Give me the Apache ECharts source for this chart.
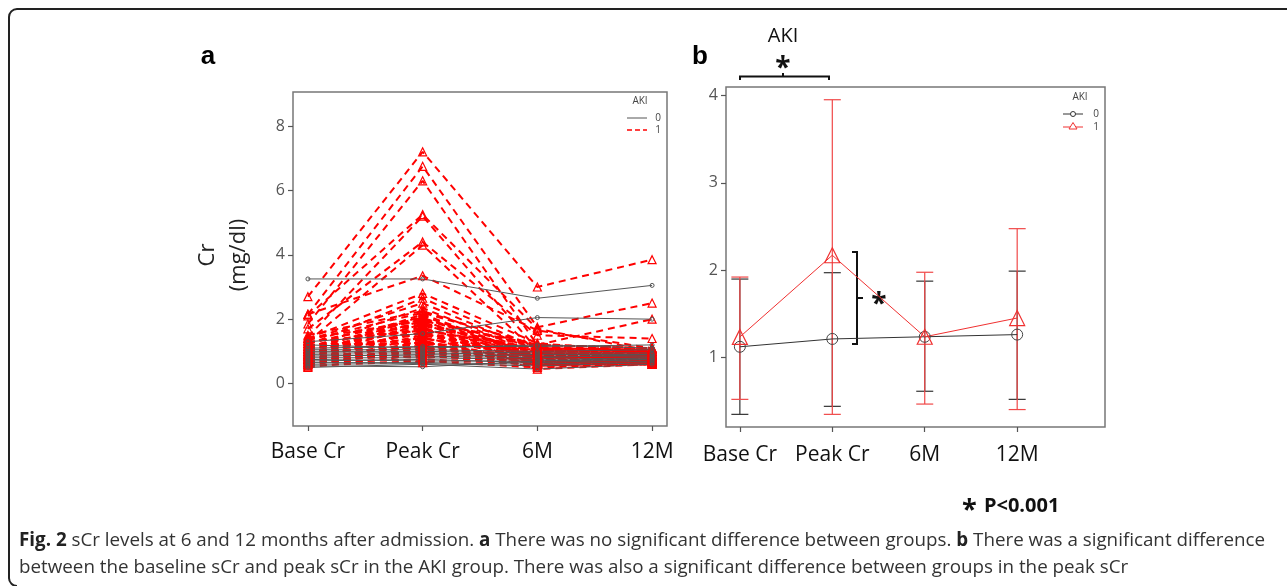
<!DOCTYPE html>
<html>
<head>
<meta charset="utf-8">
<script src="https://cdn.jsdelivr.net/npm/echarts@6/dist/echarts.min.js"></script>
<style>
  html, body { margin: 0; padding: 0; background: #fff; }
  #fig { width: 1287px; height: 586px; }
</style>
</head>
<body>
<div id="fig"></div>
<script>
// x positions 0..3
const timeLabels = ["Base Cr", "Peak Cr", "6M", "12M"];

// panel a: individual patients, AKI = 1 (red dashed)
const akiBase = [2.70, 2.15, 1.85, 2.10, 1.45, 1.70, 1.30, 2.15, 1.40, 1.20, 1.35, 1.10, 1.50, 1.00, 1.25, 0.90, 1.15, 0.80, 1.05, 0.95, 0.70, 1.30, 0.85, 1.00, 0.75, 0.60, 1.10, 0.90, 0.65, 1.20, 0.55, 0.80, 1.00, 0.70, 0.60, 0.85, 0.50, 0.75, 0.95, 0.65, 0.55, 1.40, 1.10, 0.90, 1.05,
                 0.60, 0.75, 0.85, 0.95, 1.05, 1.15, 1.25, 1.35, 0.65, 0.80, 0.70, 0.90];
const akiPeak = [7.20, 6.75, 6.30, 5.25, 5.20, 4.40, 4.30, 3.35, 2.80, 2.65, 2.50, 2.35, 2.25, 2.15, 2.05, 1.95, 1.90, 1.85, 1.80, 1.75, 1.70, 1.65, 1.60, 1.55, 1.50, 1.45, 1.40, 1.35, 1.30, 1.25, 1.20, 1.15, 1.10, 1.05, 1.00, 0.95, 0.90, 0.85, 0.80, 0.75, 0.70, 1.95, 2.00, 2.10, 0.65,
                 1.10, 1.25, 1.40, 1.55, 1.70, 1.85, 2.00, 2.20, 0.95, 1.00, 1.30, 1.60];
const aki6M   = [3.00, 1.75, 1.20, 1.70, 1.05, 1.50, 0.95, 1.65, 1.25, 1.10, 1.00, 0.90, 1.15, 0.85, 0.80, 0.75, 0.95, 0.70, 1.00, 0.60, 0.85, 1.10, 0.65, 0.90, 0.80, 0.55, 0.95, 0.45, 0.70, 1.05, 0.60, 0.85, 0.75, 0.90, 0.65, 0.80, 0.55, 0.70, 1.00, 0.60, 0.50, 1.20, 1.15, 0.85, 0.90,
                 0.70, 0.75, 0.80, 0.85, 0.95, 1.05, 1.10, 1.20, 0.60, 0.75, 0.65, 0.90];
const aki12M  = [3.85, 2.50, 2.00, 1.00, 0.90, 1.40, 0.85, 1.10, 1.00, 0.95, 0.90, 0.80, 1.05, 0.75, 0.85, 0.70, 0.90, 0.65, 1.00, 0.60, 0.80, 1.05, 0.70, 0.85, 0.75, 0.65, 0.90, 0.60, 0.70, 1.00, 0.65, 0.80, 0.75, 0.85, 0.70, 0.80, 0.60, 0.75, 0.95, 0.65, 0.60, 1.10, 0.95, 0.90, 0.85,
                 0.70, 0.80, 0.85, 0.90, 0.95, 1.00, 1.05, 1.10, 0.65, 0.70, 0.70, 0.85];

// panel a: AKI = 0 (grey solid)
const nonBase = [3.25, 1.30, 0.55, 1.20, 1.05, 0.95, 0.85, 0.80, 0.70, 0.65, 0.60, 1.00, 0.90, 0.75, 1.10, 0.50];
const nonPeak = [3.25, 1.55, 0.52, 1.10, 1.05, 0.95, 0.90, 0.80, 0.75, 0.65, 0.62, 1.00, 0.85, 0.70, 1.15, 0.60];
const non6M   = [2.65, 2.05, 0.70, 1.20, 1.00, 0.90, 0.85, 0.75, 0.65, 0.60, 0.55, 0.95, 0.80, 0.70, 1.15, 0.45];
const non12M  = [3.05, 2.00, 0.75, 1.10, 1.05, 0.90, 0.85, 0.80, 0.75, 0.70, 0.65, 0.95, 0.90, 0.80, 1.20, 0.60];

// panel b: mean and error bars
const meanNon = [1.12, 1.21, 1.235, 1.26];
const lowNon  = [0.345, 0.437, 0.61, 0.517];
const highNon = [1.897, 1.97, 1.873, 1.988];
const meanAki = [1.233, 2.17, 1.235, 1.45];
const lowAki  = [0.517, 0.345, 0.463, 0.40];
const highAki = [1.92, 3.954, 1.975, 2.475];

const FONT = "'Open Sans', 'Noto Sans', sans-serif";

let chart = echarts.init(document.getElementById("fig"), null, { renderer: "canvas" });

function pts(arrs, i) {
  return arrs.map(function (a, k) { return [k, a[i]]; });
}

let series = [];

// red dashed patient lines
for (let i = 0; i < akiBase.length; i++) {
  series.push({
    type: "line",
    xAxisIndex: 0, yAxisIndex: 0,
    data: pts([akiBase, akiPeak, aki6M, aki12M], i),
    symbol: "triangle",
    symbolSize: 8,
    lineStyle: { color: "#ff0000", width: 2, type: [7, 5] },
    itemStyle: { color: "rgba(0,0,0,0)", borderColor: "#ff0000", borderWidth: 1.2 },
    silent: true,
  });
}
// grey patient lines
for (let i = 0; i < nonBase.length; i++) {
  series.push({
    type: "line",
    xAxisIndex: 0, yAxisIndex: 0,
    data: pts([nonBase, nonPeak, non6M, non12M], i),
    symbol: "circle",
    symbolSize: 4,
    lineStyle: { color: "#555", width: 1 },
    itemStyle: { color: "rgba(0,0,0,0)", borderColor: "#555", borderWidth: 1 },
    silent: true,
  });
}

function errBars(low, high, color) {
  return {
    type: "custom",
    xAxisIndex: 1, yAxisIndex: 1,
    data: low.map(function (v, k) { return [k, v, high[k]]; }),
    renderItem: function (params, api) {
      let lo = api.coord([api.value(0), api.value(1)]);
      let hi = api.coord([api.value(0), api.value(2)]);
      let w = 8.5;
      let st = { stroke: color, lineWidth: 1.2 };
      return {
        type: "group",
        children: [
          { type: "line", shape: { x1: lo[0], y1: lo[1], x2: hi[0], y2: hi[1] }, style: st },
          { type: "line", shape: { x1: lo[0] - w, y1: lo[1], x2: lo[0] + w, y2: lo[1] }, style: st },
          { type: "line", shape: { x1: hi[0] - w, y1: hi[1], x2: hi[0] + w, y2: hi[1] }, style: st },
        ],
      };
    },
    silent: true,
  };
}

series.push(errBars(lowNon, highNon, "#333"));
series.push(errBars(lowAki, highAki, "#f04848"));
series.push({
  type: "line",
  xAxisIndex: 1, yAxisIndex: 1,
  data: meanNon.map(function (v, k) { return [k, v]; }),
  symbol: "circle",
  symbolSize: 11,
  lineStyle: { color: "#333", width: 1 },
  itemStyle: { color: "rgba(0,0,0,0)", borderColor: "#444", borderWidth: 1 },
  silent: true,
});
series.push({
  type: "line",
  xAxisIndex: 1, yAxisIndex: 1,
  data: meanAki.map(function (v, k) { return [k, v]; }),
  symbol: "triangle",
  symbolSize: 15,
  lineStyle: { color: "#f03030", width: 1 },
  itemStyle: { color: "rgba(0,0,0,0)", borderColor: "#f03030", borderWidth: 1.2 },
  silent: true,
});

function xAxisOf(idx, min, max, margin) {
  return {
    type: "value", gridIndex: idx, min: min, max: max,
    axisLine: { show: false, onZero: false },
    splitLine: { show: false },
    axisTick: { show: true, length: 5, customValues: [0, 1, 2, 3], lineStyle: { color: "#555", width: 1.2 } },
    axisLabel: {
      customValues: [0, 1, 2, 3], margin: margin, fontSize: 21, color: "#111", fontFamily: FONT,
      formatter: function (v) { return timeLabels[Math.round(v)]; },
    },
  };
}
function yAxisOf(idx, min, max, ticks, margin) {
  return {
    type: "value", gridIndex: idx, min: min, max: max,
    axisLine: { show: false, onZero: false },
    splitLine: { show: false },
    axisTick: { show: true, length: 5, customValues: ticks, lineStyle: { color: "#555", width: 1.2 } },
    axisLabel: { customValues: ticks, margin: margin, fontSize: 16, color: "#555", fontFamily: FONT },
  };
}

function txt(x, y, text, font, fill, align, extra) {
  let e = {
    type: "text", x: x, y: y, silent: true,
    style: { text: text, font: font, fill: fill || "#222", align: align || "center", verticalAlign: "middle" },
  };
  if (extra) Object.assign(e, extra);
  return e;
}
function seg(x1, y1, x2, y2, color, w, dash) {
  return {
    type: "line", silent: true,
    shape: { x1: x1, y1: y1, x2: x2, y2: y2 },
    style: { stroke: color, lineWidth: w || 1, lineDash: dash || null },
  };
}

let graphics = [
  // outer frame (open on the right)
  seg(17, 9, 1290, 9, "#222", 2),
  seg(9, 17, 9, 578, "#222", 2),
  { type: "arc", silent: true, shape: { cx: 17, cy: 17, r: 8, startAngle: Math.PI, endAngle: Math.PI * 1.5, clockwise: true }, style: { stroke: "#222", lineWidth: 2, fill: null } },
  { type: "arc", silent: true, shape: { cx: 17, cy: 578, r: 8, startAngle: Math.PI / 2, endAngle: Math.PI, clockwise: true }, style: { stroke: "#222", lineWidth: 2, fill: null } },
  txt(208, 57, "a", "bold 26px Arial, 'Liberation Sans', sans-serif", "#000"),
  txt(700, 57, "b", "bold 26px Arial, 'Liberation Sans', sans-serif", "#000"),
  txt(208, 255, "Cr", "22px " + FONT, "#222", "center", { rotation: Math.PI / 2 }),
  txt(239, 255, "(mg/dl)", "22px " + FONT, "#222", "center", { rotation: Math.PI / 2 }),
  // legend a
  txt(640, 101, "AKI", "10px " + FONT, "#444"),
  seg(627, 118, 647, 118, "#555", 1),
  txt(658, 118, "0", "10px " + FONT, "#444"),
  seg(627, 130, 647, 130, "#ff0000", 1.4, [5, 3]),
  txt(658, 130, "1", "10px " + FONT, "#444"),
  // legend b
  txt(1080, 97, "AKI", "10px " + FONT, "#444"),
  seg(1063, 114, 1083, 114, "#333", 1),
  { type: "circle", silent: true, shape: { cx: 1073, cy: 114, r: 2.5 }, style: { stroke: "#333", fill: "#fff", lineWidth: 1 } },
  txt(1096, 114, "0", "10px " + FONT, "#444"),
  seg(1063, 127, 1083, 127, "#f03030", 1),
  { type: "polygon", silent: true, shape: { points: [[1073, 122.5], [1069, 129], [1077, 129]] }, style: { stroke: "#f03030", fill: "#fff", lineWidth: 1 } },
  txt(1096, 127, "1", "10px " + FONT, "#444"),
  // significance marks in b
  txt(783, 36, "AKI", "20px " + FONT, "#111"),
  txt(783, 69, "*", "bold 28px " + FONT, "#111"),
  {
    type: "polyline", silent: true,
    shape: { points: [[740, 80], [740, 76.5], [829, 76.5], [829, 80]] },
    style: { stroke: "#111", lineWidth: 2, fill: null },
  },
  seg(783, 76.5, 783, 73, "#111", 2),
  {
    type: "polyline", silent: true,
    shape: { points: [[852, 252], [857, 252], [857, 344], [852, 344]] },
    style: { stroke: "#111", lineWidth: 2, fill: null },
  },
  seg(857, 298, 863, 298, "#111", 2),
  txt(879, 305, "*", "bold 28px " + FONT, "#111"),
  // p value + caption
  {
    type: "text", x: 962, y: 506, silent: true,
    style: {
      text: "{s|*} P<0.001", font: "bold 20px " + FONT, fill: "#111", align: "left", verticalAlign: "middle",
      rich: { s: { fontSize: 27, fontWeight: "bold", fontFamily: FONT, padding: [8, 2, 0, 0] } },
    },
  },
  {
    type: "text", x: 19, y: 541, silent: true,
    style: {
      text: "{b|Fig. 2} sCr levels at 6 and 12 months after admission. {b|a} There was no significant difference between groups. {b|b} There was a significant difference",
      font: "18.8px " + FONT, fill: "#333", align: "left", verticalAlign: "middle",
      rich: { b: { fontWeight: "bold", fontSize: 18.8, fontFamily: FONT, fill: "#222" } },
    },
  },
  txt(19, 568, "between the baseline sCr and peak sCr in the AKI group. There was also a significant difference between groups in the peak sCr", "18.8px " + FONT, "#333", "left"),
];

let option = {
  animation: false,
  backgroundColor: "#fff",
  textStyle: { fontFamily: FONT },
  grid: [
    { left: 293, top: 92, width: 374, height: 334, show: true, borderColor: "#777", borderWidth: 1.5, backgroundColor: "transparent" },
    { left: 726, top: 87, width: 379, height: 340, show: true, borderColor: "#777", borderWidth: 1.5, backgroundColor: "transparent" },
  ],
  xAxis: [xAxisOf(0, -0.13, 3.13, 16), xAxisOf(1, -0.15, 3.95, 18)],
  yAxis: [yAxisOf(0, -1.32, 9.06, [0, 2, 4, 6, 8], 8), yAxisOf(1, 0.2, 4.1, [1, 2, 3, 4], 8)],
  series: series,
  graphic: graphics,
};

chart.setOption(option);
</script>
</body>
</html>
